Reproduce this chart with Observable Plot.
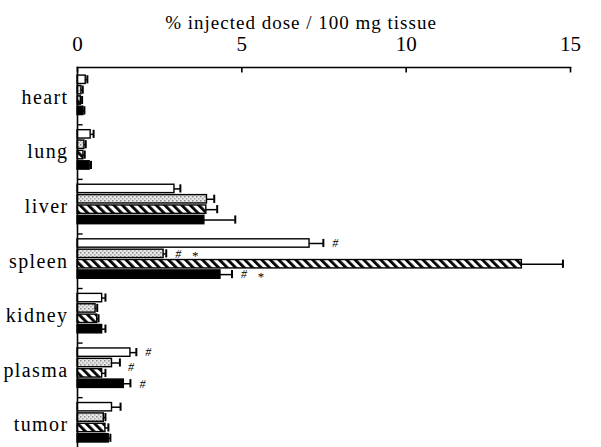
<!DOCTYPE html>
<html><head><meta charset="utf-8">
<script src="https://cdn.jsdelivr.net/npm/d3@7"></script>
<script src="https://cdn.jsdelivr.net/npm/@observablehq/plot@0.6"></script>
<style>
body{margin:0;background:#fff;}
#chart svg, #chart svg text { font-family: "Liberation Serif", "DejaVu Serif", serif !important; }
</style>
</head><body><div id="chart"></div>
<script>
const organs = ["heart", "lung", "liver", "spleen", "kidney", "plasma", "tumor"];
const seriesNames = ["series 1", "series 2", "series 3", "series 4"];
// values per series, in organ order
const values1 = [0.25, 0.40, 2.95, 7.06, 0.75, 1.61, 1.05];
const errors1 = [0.05, 0.09, 0.18, 0.42, 0.10, 0.18, 0.26];
const values2 = [0.12, 0.21, 3.94, 2.62, 0.55, 1.05, 0.80];
const errors2 = [0.04, 0.04, 0.22, 0.08, 0.05, 0.24, 0.05];
const values3 = [0.10, 0.18, 3.92, 13.52, 0.60, 0.75, 0.85];
const errors3 = [0.04, 0.04, 0.33, 1.25, 0.04, 0.10, 0.09];
const values4 = [0.18, 0.37, 3.86, 4.35, 0.75, 1.41, 0.95];
const errors4 = [0.03, 0.04, 0.94, 0.35, 0.10, 0.20, 0.05];
const xTicks = [0, 5, 10, 15];
const xLabel = "% injected dose / 100 mg tissue";
const annotations = [
  {organ: "spleen", series: 0, label: "#"},
  {organ: "spleen", series: 1, label: "#"},
  {organ: "spleen", series: 1, label: "*"},
  {organ: "spleen", series: 3, label: "#"},
  {organ: "spleen", series: 3, label: "*"},
  {organ: "plasma", series: 0, label: "#"},
  {organ: "plasma", series: 1, label: "#"},
  {organ: "plasma", series: 3, label: "#"}
];

const allValues = [values1, values2, values3, values4];
const allErrors = [errors1, errors2, errors3, errors4];
const rows = [];
organs.forEach((organ, i) => {
  seriesNames.forEach((s, j) => {
    rows.push({organ, i, j, series: s, value: allValues[j][i], err: allErrors[j][i]});
  });
});
const fills = ["white", "url(#dots)", "url(#hatch)", "black"];
const BAR = 0.19, START = -0.42;
const top0 = (d) => d.i + START + d.j * BAR;
const mid = (d) => top0(d) + BAR / 2;
const findRow = (a) => rows.find(r => r.organ === a.organ && r.j === a.series);
const serif = "Liberation Serif";

const marks = [];
seriesNames.forEach((s, j) => {
  marks.push(Plot.rectX(rows.filter(r => r.j === j), {
    x1: 0, x2: "value", y1: top0, y2: d => top0(d) + BAR,
    fill: fills[j], stroke: "black", strokeWidth: 1.4, insetTop: 1, insetBottom: 1
  }));
});
const annX = a => { const r = findRow(a); return r.value + r.err; };
const annY = a => mid(findRow(a));
marks.push(
  Plot.ruleY(rows, {y: mid, x1: "value", x2: d => d.value + d.err, stroke: "black", strokeWidth: 1.5}),
  Plot.ruleX(rows, {x: d => d.value + d.err, y1: d => mid(d) - 0.075, y2: d => mid(d) + 0.075, stroke: "black", strokeWidth: 2}),
  Plot.text(annotations.filter(a => a.label === "#" && !(a.organ === "plasma" && a.series === 1)), {
    x: annX, y: annY, text: "label", textAnchor: "middle", dx: 12, fontSize: 12, fontStyle: "italic", fontFamily: serif
  }),
  Plot.text(annotations.filter(a => a.label === "#" && a.organ === "plasma" && a.series === 1), {
    x: annX, y: annY, text: "label", textAnchor: "middle", dx: 11, dy: 4, fontSize: 12, fontStyle: "italic", fontFamily: serif
  }),
  Plot.text(annotations.filter(a => a.label === "*"), {
    x: annX, y: annY, text: "label", textAnchor: "middle", dx: 29, dy: 2, fontSize: 13, fontFamily: serif
  }),
  Plot.frame({anchor: "top", strokeWidth: 1.6}),
  Plot.frame({anchor: "left", strokeWidth: 1.6}),
  Plot.ruleX(xTicks, {x: d => d, y1: -0.55, y2: -0.55 + 0.1, strokeWidth: 1.6}),
  Plot.text(xTicks, {x: d => d, frameAnchor: "top", lineAnchor: "bottom", dy: -17, fontSize: 21, fontFamily: serif}),
  Plot.text([xLabel], {frameAnchor: "top", lineAnchor: "bottom", dx: -23, dy: -39, fontSize: 19, fontFamily: serif}),
  Plot.ruleY(organs.slice(1), {y: (d, k) => k + 0.5, x1: 0, x2: 0.17, strokeWidth: 1.4}),
  Plot.text(organs, {y: (d, k) => k, frameAnchor: "left", textAnchor: "end", dx: -9, fontSize: 20, fontFamily: serif})
);

const plot = Plot.plot({
  width: 601, height: 447,
  marginTop: 67, marginLeft: 77, marginRight: 31, marginBottom: 0,
  x: {domain: [0, 15], axis: null},
  y: {type: "linear", domain: [-0.55, 6.45], range: [67, 449], axis: null},
  style: {fontFamily: "Liberation Serif, serif", fontSize: "20px", background: "white", color: "black", overflow: "visible"},
  marks
});
// letter spacing like the scanned original (Plot 0.6 has no letterSpacing option)
plot.querySelectorAll("text").forEach(t => {
  if (t.textContent === xLabel) t.style.letterSpacing = "1px";
  else if (organs.includes(t.textContent)) t.style.letterSpacing = "1.4px";
});
plot.insertAdjacentHTML("afterbegin", `
<defs>
  <pattern id="dots" width="4" height="4" patternUnits="userSpaceOnUse">
    <rect width="4" height="4" fill="#e6e6e6"/>
    <rect x="0" y="0" width="1.5" height="1.5" fill="#8a8a8a"/>
    <rect x="2" y="2" width="1.5" height="1.5" fill="#a8a8a8"/>
  </pattern>
  <pattern id="hatch" width="6" height="6" patternUnits="userSpaceOnUse" patternTransform="rotate(-45)">
    <rect width="6" height="6" fill="white"/>
    <rect x="0" y="0" width="2.8" height="6" fill="black"/>
  </pattern>
</defs>`);
document.getElementById("chart").appendChild(plot);
</script>
</body></html>
